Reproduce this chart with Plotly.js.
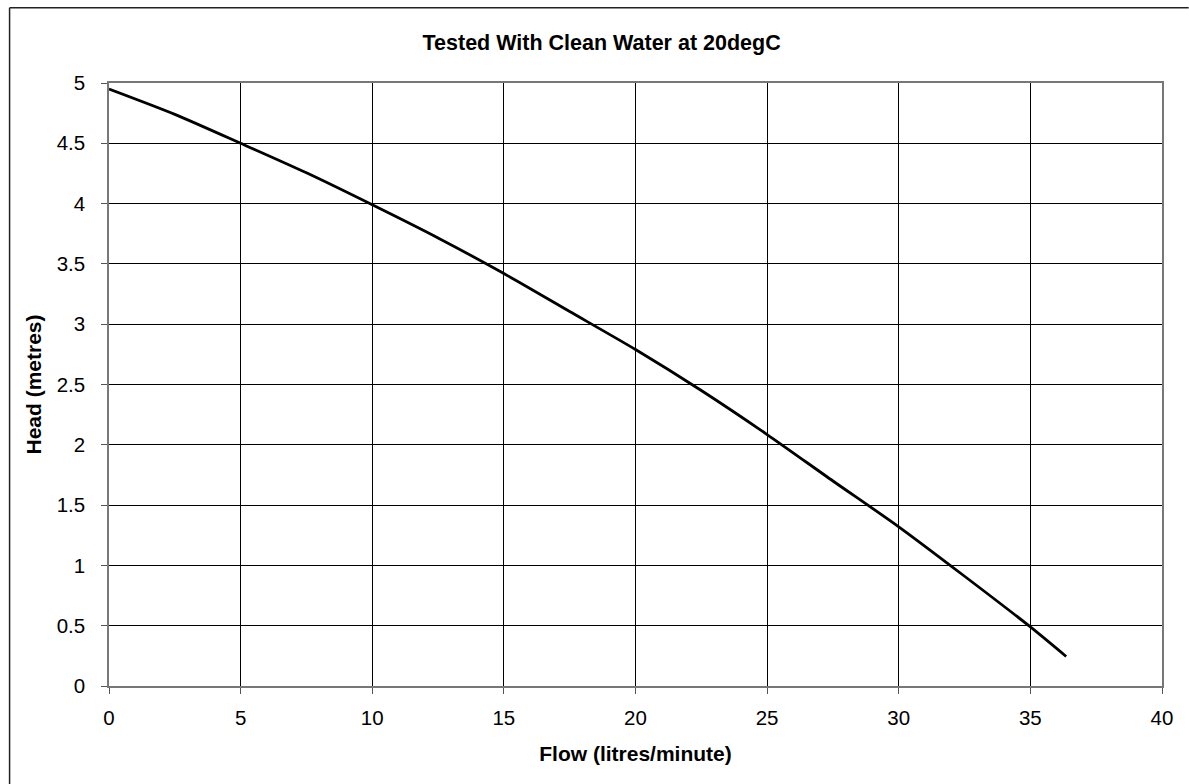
<!DOCTYPE html>
<html>
<head>
<meta charset="utf-8">
<script src="https://cdn.plot.ly/plotly-3.0.1.min.js"></script>
<style>html,body{margin:0;padding:0;background:#fff;}#chart{width:1189px;height:784px;}</style>
</head>
<body>
<div id="chart"></div>
<script>
const flow = [0, 2.5, 5, 7.5, 10, 12.5, 15, 17.5, 20, 22.5, 25, 27.5, 30, 32.5, 35, 36.36];
const head = [4.95, 4.74, 4.50, 4.255, 3.99, 3.715, 3.42, 3.105, 2.79, 2.45, 2.085, 1.70, 1.32, 0.91, 0.49, 0.245];
const xTicks = [0, 5, 10, 15, 20, 25, 30, 35, 40];
const yTicks = [0, 0.5, 1, 1.5, 2, 2.5, 3, 3.5, 4, 4.5, 5];

const font = "Liberation Sans, Arial, sans-serif";
const L = 108.5, R = 1162.3, T = 83.3, B = 686;
const W = 1189, H = 784;
const px = v => (v - L) / (R - L);
const py = v => (B - v) / (B - T);

Plotly.newPlot('chart', [{
  x: flow, y: head, type: 'scatter', mode: 'lines',
  line: {color: '#000', width: 2.8, shape: 'spline', smoothing: 0.7},
  hoverinfo: 'x+y'
}], {
  width: W, height: H,
  margin: {l: L, r: W - R, t: T, b: H - B, pad: 0},
  paper_bgcolor: '#fff', plot_bgcolor: '#fff',
  showlegend: false,
  font: {family: font, color: '#000', size: 20},
  title: {text: '<b>Tested With Clean Water at 20degC</b>', font: {family: font, size: 21.5, color: '#000'},
          x: 0.506, xanchor: 'center', y: 1 - 42.5/H, yanchor: 'middle', xref: 'container', yref: 'container'},
  xaxis: {
    range: [0, 40], tickvals: xTicks, ticktext: xTicks.map(String),
    showgrid: true, gridcolor: '#000', gridwidth: 1,
    showline: true, linecolor: '#777', linewidth: 1.5, mirror: true,
    ticks: 'outside', ticklen: 6, tickcolor: '#555', tickwidth: 1.2,
    ticklabelstandoff: 7,
    tickfont: {family: font, size: 20.5, color: '#000'},
    zeroline: false, fixedrange: true,
    title: {text: '<b>Flow (litres/minute)</b>', font: {family: font, size: 21, color: '#000'}, standoff: 18}
  },
  yaxis: {
    range: [0, 5], tickvals: yTicks, ticktext: yTicks.map(String),
    showgrid: true, gridcolor: '#000', gridwidth: 1,
    showline: true, linecolor: '#777', linewidth: 1.5, mirror: true,
    ticks: 'outside', ticklen: 6, tickcolor: '#555', tickwidth: 1.2,
    ticklabelstandoff: 12,
    tickfont: {family: font, size: 20.5, color: '#000'},
    zeroline: false, fixedrange: true,
    title: {text: '<b>Head (metres)</b>', font: {family: font, size: 21, color: '#000'}, standoff: 9}
  },
  shapes: [
    {type: 'line', xref: 'paper', yref: 'paper', x0: px(9), x1: px(1189), y0: py(8), y1: py(8), line: {color: '#222', width: 1.5}},
    {type: 'line', xref: 'paper', yref: 'paper', x0: px(9), x1: px(9), y0: py(8), y1: py(784), line: {color: '#222', width: 1.5}}
  ]
}, {displayModeBar: false});
</script>
</body>
</html>
